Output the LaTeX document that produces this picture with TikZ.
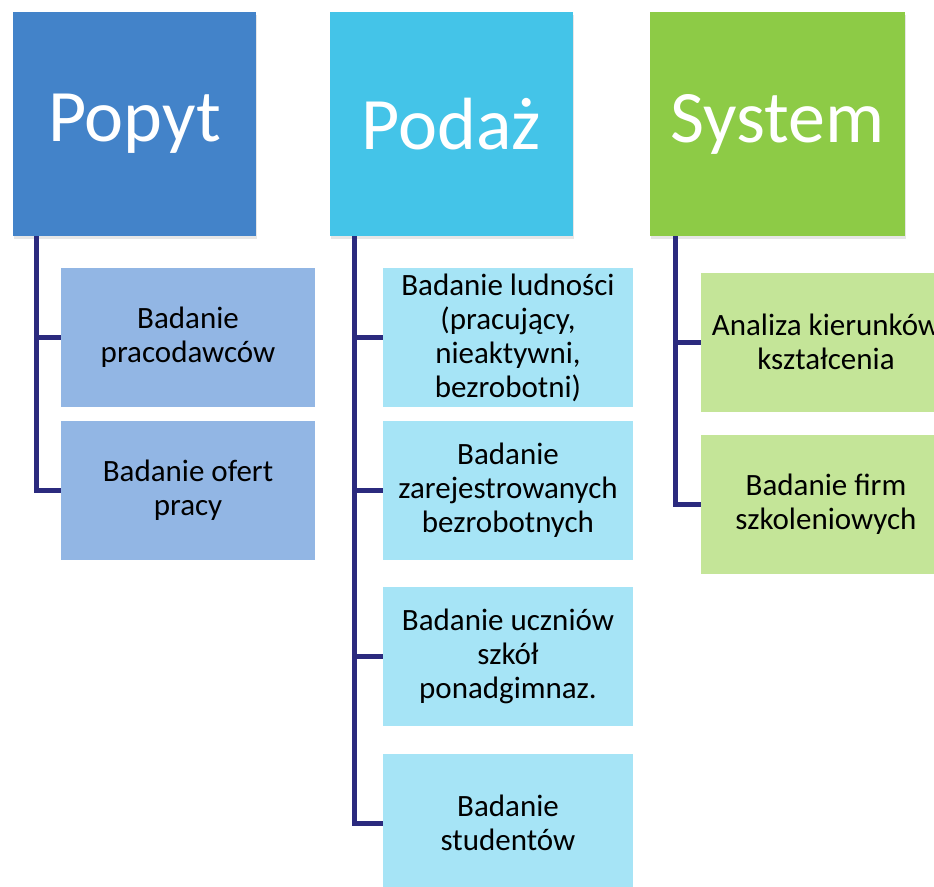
\documentclass[tikz,border=0pt]{standalone}
\usepackage{fontspec}
\setmainfont{Carlito}
\usepackage{xcolor}
\usetikzlibrary{shadows}

\definecolor{popytblue}{RGB}{67,131,201}
\definecolor{podazcyan}{RGB}{68,196,232}
\definecolor{systemgreen}{RGB}{141,203,70}
\definecolor{popytlight}{RGB}{146,182,228}
\definecolor{podazlight}{RGB}{166,228,246}
\definecolor{systemlight}{RGB}{196,229,152}
\definecolor{linenavy}{RGB}{43,42,126}

\begin{document}
\begin{tikzpicture}[x=1pt,y=-1pt]
        \edef\headheight{224pt}
        \edef\itemheight{139pt}
        \tikzstyle{headbox}=[minimum height=\headheight,text=white,font=\fontsize{74}{80}\selectfont,drop shadow={opacity=0.2,shadow xshift=1pt,shadow yshift=-3pt}]
        \tikzstyle{itembox}=[minimum height=\itemheight,inner sep=1pt,align=center,font=\fontsize{31}{34}\selectfont]
        \tikzstyle{branch}=[draw=linenavy,line width=5pt]

        \useasboundingbox (0,0) rectangle (934,886);
        \clip (0,0) rectangle (934,886);

        %% Draw top boxes
        \node [headbox,fill=popytblue,minimum width=243pt] (popyt) at (134.5,124) {Popyt};
        \node [headbox,fill=podazcyan,minimum width=243pt] (podaz) at (451.5,124) {Podaż};
        \node [headbox,fill=systemgreen,minimum width=255pt] (system) at (777.5,124) {System};

        %% Popyt
        \node [itembox,fill=popytlight,minimum width=254pt] (popyt1) at (188,337.5) {Badanie\\pracodawców};
        \node [itembox,fill=popytlight,minimum width=254pt] (popyt2) at (188,490) {Badanie ofert\\pracy};

        %% Podaz
        \node [itembox,fill=podazlight,minimum width=250pt] (podaz1) at (508,337.5) {Badanie ludności\\(pracujący,\\nieaktywni,\\bezrobotni)};
        \node [itembox,fill=podazlight,minimum width=250pt] (podaz2) at (508,490) {Badanie\\zarejestrowanych\\bezrobotnych};
        \node [itembox,fill=podazlight,minimum width=250pt] (podaz3) at (508,656) {Badanie uczniów\\szkół\\ponadgimnaz.};
        \node [itembox,fill=podazlight,minimum width=250pt] (podaz4) at (508,823) {Badanie\\studentów};

        %% System
        \node [itembox,fill=systemlight,minimum width=250pt] (system1) at (826,342) {Analiza kierunków\\kształcenia};
        \node [itembox,fill=systemlight,minimum width=250pt] (system2) at (826,504) {Badanie firm\\szkoleniowych};

        %% Draw branches
        \draw [branch] ([xshift=24pt]popyt.south west) |- (popyt1.west);
        \draw [branch] ([xshift=24pt]popyt.south west) |- (popyt2.west);
        \draw [branch] ([xshift=25pt]podaz.south west) |- (podaz1.west);
        \draw [branch] ([xshift=25pt]podaz.south west) |- (podaz2.west);
        \draw [branch] ([xshift=25pt]podaz.south west) |- (podaz3.west);
        \draw [branch] ([xshift=25pt]podaz.south west) |- (podaz4.west);
        \draw [branch] ([xshift=26pt]system.south west) |- (system1.west);
        \draw [branch] ([xshift=26pt]system.south west) |- (system2.west);

    \end{tikzpicture}
\end{document}
